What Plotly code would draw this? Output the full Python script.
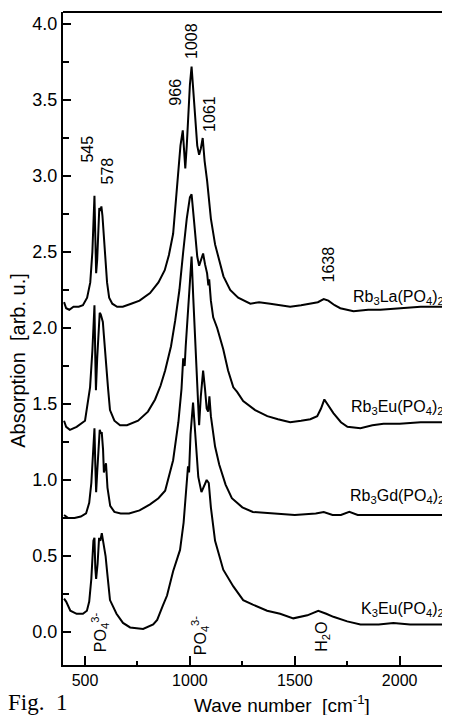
import plotly.graph_objects as go

# ---------------- data ----------------
la_x = [400, 410, 425, 445, 470, 490, 510, 525, 535, 540, 545, 549, 553, 558, 563, 568, 573, 578, 583, 590, 597, 605, 615, 630, 653, 680, 720, 760, 810, 850, 880, 900, 920, 940, 955, 966, 972, 978, 985, 993, 1000, 1008, 1016, 1025, 1035, 1044, 1052, 1061, 1070, 1082, 1100, 1120, 1144, 1160, 1192, 1230, 1288, 1330, 1383, 1430, 1478, 1530, 1574, 1610, 1638, 1660, 1690, 1717, 1780, 1850, 1908, 2000, 2100, 2240]
la_y = [2.17, 2.13, 2.12, 2.14, 2.14, 2.15, 2.2, 2.3, 2.5, 2.75, 2.87, 2.6, 2.36, 2.45, 2.7, 2.79, 2.77, 2.8, 2.74, 2.6, 2.42, 2.3, 2.2, 2.16, 2.14, 2.14, 2.16, 2.18, 2.23, 2.3, 2.38, 2.48, 2.62, 2.95, 3.2, 3.3, 3.2, 3.05, 3.2, 3.45, 3.6, 3.72, 3.55, 3.35, 3.2, 3.14, 3.18, 3.25, 3.1, 2.97, 2.72, 2.55, 2.42, 2.34, 2.25, 2.2, 2.16, 2.17, 2.16, 2.15, 2.14, 2.15, 2.16, 2.17, 2.19, 2.18, 2.15, 2.13, 2.11, 2.12, 2.12, 2.13, 2.14, 2.14]

eu_x = [400, 410, 428, 460, 500, 524, 535, 540, 545, 549, 552, 558, 565, 570, 575, 580, 585, 590, 595, 600, 610, 619, 640, 667, 700, 753, 800, 834, 860, 882, 910, 930, 950, 968, 985, 1000, 1008, 1020, 1035, 1044, 1052, 1063, 1072, 1082, 1088, 1092, 1100, 1111, 1130, 1159, 1182, 1207, 1225, 1254, 1311, 1369, 1420, 1478, 1530, 1574, 1607, 1625, 1641, 1660, 1684, 1720, 1751, 1813, 1870, 1923, 2000, 2100, 2240]
eu_y = [1.39, 1.35, 1.33, 1.35, 1.39, 1.61, 1.85, 2.05, 2.15, 1.8, 1.59, 1.8, 2.03, 2.1, 2.09, 2.07, 2.04, 1.95, 1.85, 1.77, 1.6, 1.46, 1.39, 1.36, 1.36, 1.39, 1.45, 1.53, 1.62, 1.72, 1.88, 2.05, 2.25, 2.5, 2.72, 2.86, 2.88, 2.7, 2.47, 2.41, 2.45, 2.49, 2.42, 2.36, 2.28, 2.32, 2.18, 2.07, 2.0, 1.86, 1.72, 1.61, 1.58, 1.52, 1.46, 1.42, 1.4, 1.38, 1.39, 1.40, 1.42, 1.47, 1.53, 1.49, 1.44, 1.38, 1.35, 1.34, 1.36, 1.37, 1.37, 1.38, 1.38]

gd_x = [400, 420, 450, 480, 505, 520, 530, 538, 545, 549, 553, 558, 563, 570, 575, 580, 586, 590, 595, 600, 607, 620, 640, 670, 710, 760, 810, 850, 882, 920, 945, 960, 968, 975, 980, 990, 1000, 1008, 1016, 1025, 1035, 1044, 1052, 1063, 1072, 1080, 1087, 1093, 1100, 1120, 1140, 1170, 1200, 1250, 1300, 1400, 1500, 1600, 1638, 1680, 1720, 1760, 1800, 1900, 2000, 2240]
gd_y = [0.77, 0.75, 0.75, 0.76, 0.78, 0.85, 0.98, 1.2, 1.34, 1.1, 0.92, 1.05, 1.2, 1.33, 1.31, 1.31, 1.2, 1.05, 1.08, 1.11, 0.95, 0.83, 0.79, 0.78, 0.78, 0.8, 0.84, 0.88, 0.93, 1.13, 1.38, 1.6, 1.8, 1.75, 1.88, 2.1, 2.35, 2.47, 2.2, 1.9, 1.55, 1.36, 1.55, 1.72, 1.6, 1.47, 1.45, 1.55, 1.42, 1.22, 1.1, 0.97, 0.88, 0.82, 0.79, 0.78, 0.77, 0.78, 0.79, 0.77, 0.77, 0.79, 0.77, 0.77, 0.77, 0.77]

k_x = [400, 410, 430, 460, 490, 509, 520, 530, 540, 545, 549, 553, 560, 567, 573, 580, 586, 592, 598, 605, 619, 650, 681, 715, 777, 825, 844, 870, 891, 920, 953, 970, 985, 991, 996, 1003, 1015, 1025, 1040, 1055, 1065, 1080, 1090, 1100, 1120, 1159, 1207, 1254, 1300, 1368, 1430, 1493, 1560, 1612, 1650, 1684, 1750, 1813, 1900, 1970, 2050, 2240]
k_y = [0.22, 0.2, 0.14, 0.12, 0.12, 0.14, 0.2, 0.35, 0.6, 0.62, 0.42, 0.35, 0.45, 0.62, 0.6, 0.65, 0.6, 0.56, 0.5, 0.4, 0.21, 0.12, 0.06, 0.03, 0.02, 0.05, 0.08, 0.17, 0.24, 0.4, 0.54, 0.72, 0.98, 1.09, 1.05, 1.3, 1.51, 1.3, 1.02, 0.92, 0.95, 1.0, 0.98, 0.82, 0.6, 0.41, 0.30, 0.21, 0.18, 0.14, 0.12, 0.09, 0.11, 0.14, 0.12, 0.10, 0.07, 0.05, 0.05, 0.06, 0.05, 0.05]

series = [(la_x, la_y), (eu_x, eu_y), (gd_x, gd_y), (k_x, k_y)]

x_ticks = [500, 1000, 1500, 2000]
y_ticks = [0.0, 0.5, 1.0, 1.5, 2.0, 2.5, 3.0, 3.5, 4.0]

peak_labels = [("545", 514, 3.18), ("578", 605, 3.03), ("966", 930, 3.55),
               ("1008", 1011, 3.89), ("1061", 1092, 3.41), ("1638", 1660, 2.42)]
sample_labels = [("Rb<sub>3</sub>La(PO<sub>4</sub>)<sub>2</sub>", 2.2),
                 ("Rb<sub>3</sub>Eu(PO<sub>4</sub>)<sub>2</sub>", 1.48),
                 ("Rb<sub>3</sub>Gd(PO<sub>4</sub>)<sub>2</sub>", 0.89),
                 ("K<sub>3</sub>Eu(PO<sub>4</sub>)<sub>2</sub>", 0.145)]
band_labels = [("PO<sub>4</sub><sup>3-</sup>", 572, 0.0),
               ("PO<sub>4</sub><sup>3-</sup>", 1049, -0.02),
               ("H<sub>2</sub>O", 1631, -0.03)]

FONT = "Liberation Sans, Arial, sans-serif"

fig = go.Figure()
for sx, sy in series:
    fig.add_trace(go.Scatter(x=sx, y=sy, mode="lines",
                             line=dict(color="black", width=2),
                             showlegend=False, hoverinfo="skip"))

ann = []
for t, x, y in peak_labels:
    ann.append(dict(x=x, y=y, text=t, textangle=-90, showarrow=False,
                    xanchor="center", yanchor="middle",
                    font=dict(size=16, color="black", family=FONT)))
for t, y in sample_labels:
    ann.append(dict(x=2220, y=y, text=t, showarrow=False,
                    xanchor="right", yanchor="middle",
                    font=dict(size=16, color="black", family=FONT)))
for t, x, y in band_labels:
    ann.append(dict(x=x, y=y, text=t, textangle=-90, showarrow=False,
                    xanchor="center", yanchor="middle",
                    font=dict(size=16, color="black", family=FONT)))
ann.append(dict(x=-0.117, xref="paper", y=0.467, yref="paper",
                xanchor="center", yanchor="middle",
                text="Absorption  [arb. u.]", textangle=-90, showarrow=False,
                font=dict(size=20, color="black", family=FONT)))
ann.append(dict(x=0.566, xref="paper", y=-0.060, yref="paper",
                xanchor="center", yanchor="middle",
                text="Wave number  [cm<sup>-1</sup>]", showarrow=False,
                font=dict(size=19, color="black", family=FONT)))
ann.append(dict(x=-0.146, xref="paper", xanchor="left", y=-0.057, yref="paper",
                yanchor="middle",
                text="Fig.&nbsp;&nbsp;1", showarrow=False,
                font=dict(size=23, color="black", family="Liberation Serif, Times New Roman, serif")))

# The page adds an 8 px body margin, so the figure is sized to fit the window exactly.
fig.update_layout(
    width=442, height=707,
    margin=dict(l=55, r=0, t=4, b=50),
    paper_bgcolor="white", plot_bgcolor="white",
    annotations=ann,
    shapes=[dict(type="line", xref="paper", yref="paper", x0=0, x1=1, y0=1, y1=1,
                 line=dict(color="black", width=2))],
)
fig.update_xaxes(range=[395, 2240], tickvals=x_ticks, ticks="inside", ticklen=9,
                 tickwidth=1.5, tickcolor="black", showline=True, linecolor="black",
                 linewidth=2, showgrid=False, zeroline=False,
                 tickfont=dict(size=16, color="black", family=FONT),
                 minor=dict(ticks="inside", dtick=250, tick0=0, ticklen=4,
                            tickcolor="black", tickwidth=1.5))
fig.update_yaxes(range=[-0.217, 4.079], tickvals=y_ticks, tickformat=".1f",
                 ticks="inside", ticklen=8, tickwidth=1.5, tickcolor="black",
                 showline=True, linecolor="black", linewidth=2, showgrid=False,
                 zeroline=False, tickfont=dict(size=18, color="black", family=FONT),
                 minor=dict(ticks="inside", dtick=0.25, tick0=0, ticklen=6,
                            tickcolor="black", tickwidth=1.5))

fig.write_html("out.html")
